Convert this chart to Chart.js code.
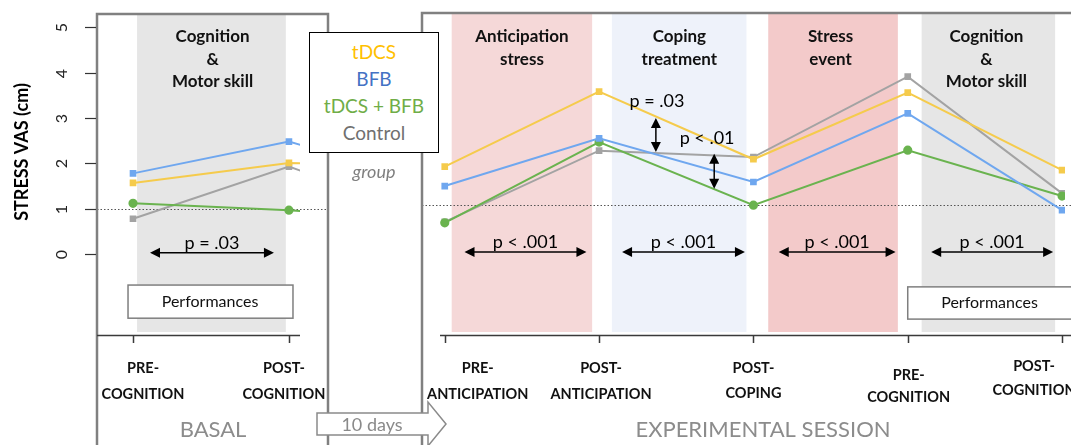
<!DOCTYPE html>
<html lang="en">
<head>
<meta charset="UTF-8">
<title>Stress VAS</title>
<script src="https://cdn.jsdelivr.net/npm/chart.js"></script>
<style>
  body { margin: 0; background: #fff; }
  #wrap { position: relative; width: 1071px; height: 445px; overflow: hidden; font-family: Lato, "Open Sans", sans-serif; }
  #basal { position: absolute; left: 0; top: 0; }
  #session { position: absolute; left: 330px; top: 0; }
  #legend { position: absolute; left: 309px; top: 32px; width: 130px; height: 121px; box-sizing: border-box;
            border: 1.5px solid #000; background: #fff; text-align: center; font-size: 19px; line-height: 27px; padding-top: 5px; }
  #group { position: absolute; left: 309px; top: 160px; width: 130px; text-align: center; font-style: italic; color: #7f7f7f; font-size: 18px; }
  #days { position: absolute; left: 0; top: 0; pointer-events: none; }
</style>
</head>
<body>
<div id="wrap">
  <canvas id="basal" width="330" height="445"></canvas>
  <canvas id="session" width="741" height="445"></canvas>
  <div id="legend"></div>
  <div id="group">group</div>
  <svg id="days" width="1071" height="445">
    <polygon points="317,413 428,413 428,402 446,424 428,446 428,435 317,435" fill="#fff" stroke="#8a8a8a" stroke-width="1.5"/>
    <text x="372" y="431" text-anchor="middle" font-family="Lato, sans-serif" font-size="18" fill="#8a8a8a">10 days</text>
  </svg>
</div>
<script>
// ---- data ----
const groups = ['tDCS', 'BFB', 'tDCS + BFB', 'Control'];
const basalLabels = [['PRE-', 'COGNITION'], ['POST-', 'COGNITION']];
const sessionLabels = [['PRE-', 'ANTICIPATION'], ['POST-', 'ANTICIPATION'], ['POST-', 'COPING'], ['PRE-', 'COGNITION'], ['POST-', 'COGNITION']];

const basalTdcs    = [1.57, 2.01];
const basalBfb     = [1.78, 2.48];
const basalBoth    = [1.12, 0.97];
const basalControl = [0.78, 1.93];

const sessionTdcs    = [1.93, 3.58, 2.09, 3.56, 1.85];
const sessionBfb     = [1.50, 2.55, 1.59, 3.10, 0.97];
const sessionBoth    = [0.69, 2.47, 1.08, 2.29, 1.28];
const sessionControl = [0.71, 2.28, 2.14, 3.91, 1.34];

const yTicks = [0, 1, 2, 3, 4, 5];

// ---- styles ----
const lineColors = ['#f5cb4c', '#6fa7ef', '#6ab34f', '#a3a3a3'];
const textColors = ['#ffc000', '#4472c4', '#70ad47', '#707070'];
const pointStyles = ['rect', 'rect', 'circle', 'rect'];
const pointSizes = [3.3, 3.3, 3.6, 3.3];

const basalSeries = [basalTdcs, basalBfb, basalBoth, basalControl];
const sessionSeries = [sessionTdcs, sessionBfb, sessionBoth, sessionControl];

// legend box
document.getElementById('legend').innerHTML =
  groups.map((g, i) => '<div style="color:' + textColors[i] + '">' + g + '</div>').join('');

function makeDatasets(series, tail) {
  return series.map((vals, i) => {
    const pts = vals.map((v, k) => ({x: k, y: v}));
    // basal lines run on towards the first session value and get cut at the panel edge
    if (tail) pts.push({x: vals.length, y: tail[i][0]});
    return {
      label: groups[i],
      data: pts,
      borderColor: lineColors[i],
      backgroundColor: lineColors[i],
      borderWidth: 2,
      pointStyle: pointStyles[i],
      pointRadius: pointSizes[i],
      tension: 0
    };
  });
}

function arrowHead(ctx, x, y, dx, dy) {
  const len = 10, w = 5;
  ctx.beginPath();
  ctx.moveTo(x, y);
  ctx.lineTo(x - dx * len - dy * w, y - dy * len + dx * w);
  ctx.lineTo(x - dx * len + dy * w, y - dy * len - dx * w);
  ctx.closePath();
  ctx.fill();
}

function panelPlugin(cfg) {
  return {
    id: 'panel',
    beforeDatasetsDraw(chart) {
      const {ctx, chartArea: a, scales: {x, y}} = chart;
      ctx.save();
      cfg.bands.forEach(b => {
        const x0 = x.getPixelForValue(b.from), x1 = x.getPixelForValue(b.to);
        ctx.fillStyle = b.color;
        ctx.fillRect(x0, a.top, x1 - x0, a.bottom - 3 - a.top);
      });
      ctx.strokeStyle = '#555';
      ctx.lineWidth = 1;
      ctx.setLineDash([1.5, 2]);
      const yr = Math.round(y.getPixelForValue(cfg.refLine)) + 0.5;
      ctx.beginPath();
      ctx.moveTo(cfg.frame.left, yr);
      ctx.lineTo(cfg.frame.right, yr);
      ctx.stroke();
      ctx.restore();
    },
    afterDatasetsDraw(chart) {
      const {ctx, chartArea: a, scales: {x, y}} = chart;
      const px = v => x.getPixelForValue(v), py = v => y.getPixelForValue(v);
      ctx.save();

      // frame
      ctx.strokeStyle = '#808080';
      ctx.lineWidth = 2.5;
      ctx.beginPath();
      ctx.moveTo(cfg.frame.left, 445);
      ctx.lineTo(cfg.frame.left, cfg.frame.top);
      ctx.lineTo(cfg.frame.right, cfg.frame.top);
      if (cfg.frame.closeRight) ctx.lineTo(cfg.frame.right, 445);
      ctx.stroke();

      // x axis + ticks
      ctx.strokeStyle = '#3a3a3a';
      ctx.lineWidth = 1.5;
      ctx.beginPath();
      ctx.moveTo(cfg.axisFrom, a.bottom + 0.5);
      ctx.lineTo(cfg.axisTo, a.bottom + 0.5);
      cfg.labels.forEach((l, i) => {
        const xx = Math.round(px(i)) + 0.5;
        ctx.moveTo(xx, a.bottom);
        ctx.lineTo(xx, a.bottom + 8);
      });
      ctx.stroke();

      ctx.fillStyle = '#111';
      ctx.font = 'bold 14.5px Lato';
      ctx.textAlign = 'center';
      ctx.textBaseline = 'middle';
      cfg.labels.forEach((l, i) => {
        l.forEach((s, j) => ctx.fillText(s, px(i) + cfg.labelDx[i], cfg.labelY[i][j]));
      });

      // y axis (left panel only)
      if (cfg.yAxis) {
        ctx.strokeStyle = '#333';
        ctx.lineWidth = 1.2;
        ctx.font = '16px Lato';
        ctx.fillStyle = '#222';
        yTicks.forEach(v => {
          const yy = Math.round(py(v)) + 0.5;
          ctx.beginPath();
          ctx.moveTo(85, yy);
          ctx.lineTo(96, yy);
          ctx.stroke();
          ctx.save();
          ctx.translate(62, yy);
          ctx.rotate(-Math.PI / 2);
          ctx.fillText(String(v), 0, 0);
          ctx.restore();
        });
        ctx.save();
        ctx.translate(22, 152);
        ctx.rotate(-Math.PI / 2);
        ctx.font = 'bold 18px Lato';
        ctx.fillStyle = '#000';
        ctx.fillText('STRESS VAS (cm)', 0, 0);
        ctx.restore();
      }

      // band titles
      ctx.font = 'bold 17px Lato';
      ctx.fillStyle = '#111';
      cfg.titles.forEach(t => {
        t.lines.forEach((s, j) => ctx.fillText(s, px(t.x), a.top + 23 + j * 22.5));
      });

      // horizontal p-value arrows
      ctx.strokeStyle = '#000';
      ctx.fillStyle = '#000';
      ctx.lineWidth = 1.5;
      ctx.font = '18px Lato';
      cfg.hArrows.forEach(h => {
        const x0 = px(h.from), x1 = px(h.to), yy = py(h.y);
        ctx.beginPath();
        ctx.moveTo(x0 + 4, yy);
        ctx.lineTo(x1 - 4, yy);
        ctx.stroke();
        arrowHead(ctx, x0, yy, -1, 0);
        arrowHead(ctx, x1, yy, 1, 0);
        ctx.fillText(h.text, (x0 + x1) / 2, py(h.textY));
      });
      (cfg.vArrows || []).forEach(v => {
        const xx = px(v.x), y0 = py(v.from), y1 = py(v.to);
        ctx.beginPath();
        ctx.moveTo(xx, y0 + 4);
        ctx.lineTo(xx, y1 - 4);
        ctx.stroke();
        arrowHead(ctx, xx, y0, 0, -1);
        arrowHead(ctx, xx, y1, 0, 1);
        ctx.fillText(v.text, px(v.textX), py(v.textY));
      });

      // performances box
      const b = cfg.perf;
      const bx0 = px(b.from), bx1 = px(b.to), by0 = py(b.top), by1 = py(b.bottom);
      ctx.fillStyle = '#fff';
      ctx.fillRect(bx0, by0, bx1 - bx0, by1 - by0);
      ctx.strokeStyle = '#7f7f7f';
      ctx.lineWidth = 1.5;
      ctx.strokeRect(bx0, by0, bx1 - bx0, by1 - by0);
      ctx.fillStyle = '#111';
      ctx.font = '16px Lato';
      ctx.fillText('Performances', px(b.textX), (by0 + by1) / 2);

      // phase name
      ctx.font = '22px Lato';
      ctx.fillStyle = '#8c8c8c';
      ctx.fillText(cfg.phase.text, cfg.phase.x, 430);

      ctx.restore();
    }
  };
}

function baseOptions(xMin, xMax, pad) {
  return {
    responsive: false,
    animation: false,
    devicePixelRatio: 1,
    layout: {padding: pad},
    plugins: {legend: {display: false}, tooltip: {enabled: false}},
    scales: {
      x: {type: 'linear', min: xMin, max: xMax, display: false},
      y: {min: -1.78, max: 5.29, display: false}
    }
  };
}

new Chart(document.getElementById('basal'), {
  type: 'line',
  data: {datasets: makeDatasets(basalSeries, sessionSeries)},
  options: baseOptions(-0.231, 1.071, {left: 97, right: 30, top: 14, bottom: 110}),
  plugins: [panelPlugin({
    yAxis: true,
    refLine: 1.0,
    frame: {left: 97, right: 328, top: 14, closeRight: true},
    axisFrom: 97, axisTo: 300,
    labels: basalLabels,
    labelDx: [10, -5],
    labelY: [[368, 394], [368, 394]],
    bands: [{from: 0.026, to: 0.98, color: '#e6e6e6'}],
    titles: [{x: 0.51, lines: ['Cognition', '&', 'Motor skill']}],
    hArrows: [{from: 0.109, to: 0.904, y: 0.03, text: 'p = .03', textY: 0.25}],
    perf: {from: -0.032, to: 1.026, top: -0.68, bottom: -1.41, textX: 0.494},
    phase: {text: 'BASAL', x: 213}
  })]
});

new Chart(document.getElementById('session'), {
  type: 'line',
  data: {datasets: makeDatasets(sessionSeries, null)},
  options: baseOptions(-0.128, 4.019, {left: 95, right: 0, top: 14, bottom: 110}),
  plugins: [panelPlugin({
    yAxis: false,
    refLine: 1.08,
    frame: {left: 92, right: 741, top: 13, closeRight: false},
    axisFrom: 110, axisTo: 741,
    labels: sessionLabels,
    labelDx: [33, 2, 0, 1, -28],
    labelY: [[368, 394], [368, 394], [368, 393], [375, 397], [366, 390]],
    bands: [
      {from: 0.045, to: 0.955, color: '#f5d8d8'},
      {from: 1.083, to: 1.955, color: '#eef2fa'},
      {from: 2.096, to: 2.936, color: '#f3caca'},
      {from: 3.09, to: 3.955, color: '#e6e6e6'}
    ],
    titles: [
      {x: 0.50, lines: ['Anticipation', 'stress']},
      {x: 1.52, lines: ['Coping', 'treatment']},
      {x: 2.50, lines: ['Stress', 'event']},
      {x: 3.51, lines: ['Cognition', '&', 'Motor skill']}
    ],
    hArrows: [
      {from: 0.128, to: 0.918, y: 0.05, text: 'p < .001', textY: 0.27},
      {from: 1.149, to: 1.945, y: 0.05, text: 'p < .001', textY: 0.27},
      {from: 2.164, to: 2.921, y: 0.05, text: 'p < .001', textY: 0.27},
      {from: 3.152, to: 3.942, y: 0.05, text: 'p < .001', textY: 0.27}
    ],
    vArrows: [
      {x: 1.368, from: 3.0, to: 2.25, text: 'p = .03', textX: 1.375, textY: 3.37},
      {x: 1.746, from: 2.21, to: 1.44, text: 'p < .01', textX: 1.70, textY: 2.56}
    ],
    perf: {from: 3.0, to: 4.2, top: -0.72, bottom: -1.43, textX: 3.53},
    phase: {text: 'EXPERIMENTAL SESSION', x: 433}
  })]
});
</script>
</body>
</html>
